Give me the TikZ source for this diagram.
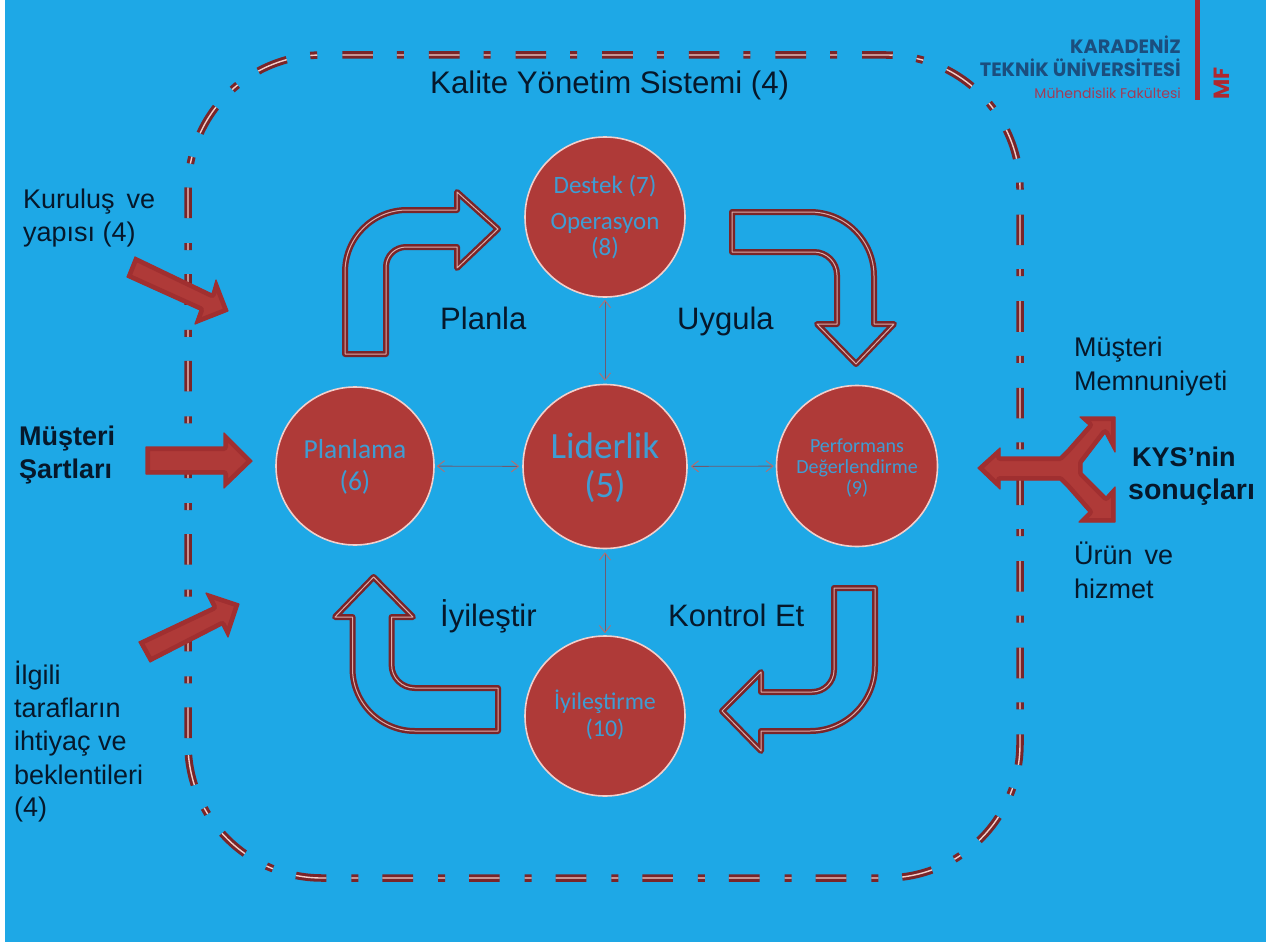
\documentclass[tikz,border=0pt]{standalone}
\usepackage{fontspec}
\setmainfont{Liberation Sans}
\newfontfamily\carl{Carlito}
\newfontfamily\logof{Poppins}
\usetikzlibrary{arrows.meta}
\definecolor{bgblue}{HTML}{1EA8E6}
\definecolor{redfill}{HTML}{AF3A38}
\definecolor{redbevel}{HTML}{A02F30}
\definecolor{redline}{HTML}{8E2C30}
\definecolor{outl}{HTML}{7A2529}
\definecolor{pinkl}{HTML}{F3CFCB}
\definecolor{circtxt}{HTML}{3F9CD2}
\definecolor{ink}{HTML}{06182B}
\definecolor{navy}{HTML}{1B4E7E}
\definecolor{logored}{HTML}{B0282F}
\definecolor{logopink}{HTML}{A33B55}
\definecolor{thinl}{HTML}{6E5A70}
\tikzset{
  circ/.style={circle,draw=pinkl,line width=1.6pt,fill=redfill,minimum size=#1,inner sep=0pt},
  ctext/.style={text=circtxt,inner sep=0pt,anchor=base,font=\carl},
  ltext/.style={text=ink,inner sep=0pt,anchor=base west},
  link/.style={draw=thinl,line width=.9pt,{Straight Barb[length=7pt,width=11pt,color=redline!60!pinkl]}-{Straight Barb[length=7pt,width=11pt,color=redline!60!pinkl]},shorten <=3pt,shorten >=2pt},
  hollowa/.style={draw=outl,line width=6pt,line join=round,fill=none},
  hollowb/.style={draw=pinkl!80!outl,line width=1pt,line join=round,fill=none},
  frameA/.style={draw=outl,line width=7.5pt,dash pattern=on 30.64pt off 25pt on 7pt off 24pt,dash phase=74.64pt},
  frameB/.style={draw=pinkl,line width=1.4pt,dash pattern=on 30.64pt off 25pt on 7pt off 24pt,dash phase=74.64pt},
}
\newcommand{\hollowarrow}[1]{\draw[hollowa] #1; \draw[hollowb] #1;}
\newcommand{\solidarrow}[1]{%
  \begin{scope}\clip #1; \fill[redfill] #1; \draw[redbevel,line width=8pt,line join=round] #1;\end{scope}
  \draw[redbevel,line width=1.2pt,line join=round] #1;}
\begin{document}
\begin{tikzpicture}[x=1pt,y=-1pt]
\useasboundingbox (0,0) rectangle (1266,942);
\fill[white] (0,0) rectangle (1266,942);
\fill[bgblue] (5,0) rectangle (1266,942);
% frame
\def\framepath{[rounded corners=134pt] (188,743) -- (188,878) -- (1020,878) -- (1020,55) -- (188,55) -- (188,743)}
\draw[frameA] \framepath;
\draw[frameB] \framepath;
% hollow arrows
\def\arrowA{(345,354) -- (345,272) arc[start angle=180,end angle=270,radius=62] -- (457,210) -- (457,192) -- (498,229) -- (457,268) -- (457,247) -- (406,247) arc[start angle=270,end angle=180,radius=20] -- (386,354) -- cycle}
\hollowarrow{\arrowA}
\def\arrowB{(732,212) -- (810,212) arc[start angle=270,end angle=360,radius=64] -- (874,324) -- (894,324) -- (856,364) -- (817,324) -- (837,324) -- (837,275) arc[start angle=0,end angle=-90,radius=23] -- (732,252) -- cycle}
\hollowarrow{\arrowB}
\def\arrowC{(834,588) -- (875,588) -- (875,666) arc[start angle=0,end angle=90,radius=65] -- (761,731) -- (761,751) -- (722,711) -- (761,672) -- (761,692) -- (812,692) arc[start angle=90,end angle=0,radius=22] -- cycle}
\hollowarrow{\arrowC}
\def\arrowD{(498,688) -- (498,731) -- (415,731) arc[start angle=90,end angle=180,radius=62.5] -- (352.5,617) -- (335,617) -- (373.6,577) -- (413,617) -- (391.6,617) -- (391.6,665) arc[start angle=180,end angle=90,radius=23] -- cycle}
\hollowarrow{\arrowD}
% solid arrows
\solidarrow{(135,257) -- (212,294) -- (216,280) -- (228,311) -- (195,324) -- (200,310) -- (127,277) -- cycle}
\solidarrow{(146,447) -- (224,447) -- (224,433) -- (252,461) -- (224,488) -- (224,474) -- (146,474) -- cycle}
\solidarrow{(139,642) -- (213,607) -- (206,593) -- (239,604) -- (228,637) -- (222,625) -- (150,662) -- cycle}
\solidarrow{(978,468) -- (1000,448) -- (1000,457) -- (1060,457) -- (1067,450) -- (1089,425) -- (1080,417) -- (1115,417) -- (1115,452) -- (1105,433) -- (1082,463) -- (1082,473) -- (1106,497) -- (1115,487) -- (1115,522) -- (1079,522) -- (1089,512) -- (1067,487) -- (1060,480) -- (1000,480) -- (1000,489) -- cycle}
% circles
\node[circ=160pt] (destek) at (605,217) {};
\node[circ=158pt] (planlama) at (355,466) {};
\node[circ=164pt] (liderlik) at (605,466.5) {};
\node[circ=161pt] (perf) at (857,466) {};
\node[circ=160pt] (iyi) at (605,716) {};
\draw[link] (liderlik) -- (destek);
\draw[link] (liderlik) -- (planlama);
\draw[link] (liderlik) -- (perf);
\draw[link] (liderlik) -- (iyi);
% circle text
\node[ctext,font=\carl\fontsize{25}{26}\selectfont] (t1) at (605,193) {Destek (7)};
\node[ctext,font=\carl\fontsize{25}{26}\selectfont] (t2) at (605,229) {Operasyon};
\node[ctext,font=\carl\fontsize{25}{26}\selectfont] (t3) at (605,255) {(8)};
\node[ctext,font=\carl\fontsize{27.5}{28}\selectfont] (t4) at (355,458) {Planlama};
\node[ctext,font=\carl\fontsize{27.5}{28}\selectfont] (t5) at (355,490) {(6)};
\node[ctext,font=\carl\fontsize{37}{38}\selectfont] (t6) at (605,458) {Liderlik};
\node[ctext,font=\carl\fontsize{37}{38}\selectfont] (t7) at (605,497) {(5)};
\node[ctext,font=\carl\fontsize{20}{22}\selectfont] (t8) at (857,452) {Performans};
\node[ctext,font=\carl\fontsize{20}{22}\selectfont] (t9) at (857,473) {Değerlendirme};
\node[ctext,font=\carl\fontsize{20}{22}\selectfont] (t10) at (857,494) {(9)};
\node[ctext,font=\carl\fontsize{24}{26}\selectfont] (t11) at (605,709) {İyileştirme};
\node[ctext,font=\carl\fontsize{24}{26}\selectfont] (t12) at (605,736) {(10)};
% black labels
\node[ltext,font=\fontsize{31.2}{33}\selectfont] (k) at (430,93.5) {Kalite Yönetim Sistemi (4)};
\node[ltext,font=\fontsize{27}{29}\selectfont] (a1) at (23,208) {Kuruluş\, ve};
\node[ltext,font=\fontsize{27}{29}\selectfont] (a2) at (23,241) {yapısı (4)};
\node[ltext,font=\fontsize{27}{29}\selectfont\bfseries] (b1) at (19,445) {Müşteri};
\node[ltext,font=\fontsize{27}{29}\selectfont\bfseries] (b2) at (19,478) {Şartları};
\node[ltext,font=\fontsize{27}{29}\selectfont] (c1) at (14,684) {İlgili};
\node[ltext,font=\fontsize{27}{29}\selectfont] (c2) at (14,717) {tarafların};
\node[ltext,font=\fontsize{27}{29}\selectfont] (c3) at (14,750) {ihtiyaç ve};
\node[ltext,font=\fontsize{27}{29}\selectfont] (c4) at (14,784) {beklentileri};
\node[ltext,font=\fontsize{27}{29}\selectfont] (c5) at (14,816) {(4)};
\node[ltext,font=\fontsize{31}{33}\selectfont] (p1) at (440,329) {Planla};
\node[ltext,font=\fontsize{31}{33}\selectfont] (p2) at (677,329) {Uygula};
\node[ltext,font=\fontsize{31}{33}\selectfont] (p3) at (440,626) {İyileştir};
\node[ltext,font=\fontsize{31}{33}\selectfont] (p4) at (668,626) {Kontrol Et};
\node[ltext,font=\fontsize{27}{29}\selectfont] (d1) at (1074,356) {Müşteri};
\node[ltext,font=\fontsize{27}{29}\selectfont] (d2) at (1074,390) {Memnuniyeti};
\node[ltext,font=\fontsize{27}{29}\selectfont\bfseries] (e1) at (1132,466) {KYS’nin};
\node[ltext,font=\fontsize{28.5}{30}\selectfont\bfseries] (e2) at (1128,499) {sonuçları};
\node[ltext,font=\fontsize{27}{29}\selectfont] (f1) at (1074,564) {Ürün\, ve};
\node[ltext,font=\fontsize{27}{29}\selectfont] (f2) at (1074,598) {hizmet};
% logo
\fill[logored] (1195,0) rectangle (1200,100);
\node[inner sep=0pt,anchor=base east,text=navy,font=\logof\fontsize{19.3}{21}\selectfont\bfseries] (l1) at (1181,54) {KARADENİZ};
\node[inner sep=0pt,anchor=base east,text=navy,font=\logof\fontsize{19.3}{21}\selectfont\bfseries] (l2) at (1181,77) {TEKNİK ÜNİVERSİTESİ};
\node[inner sep=0pt,anchor=base east,text=logopink,font=\logof\fontsize{14}{16}\selectfont] (l3) at (1181,99) {Mühendislik Fakültesi};
\node[inner sep=0pt,anchor=base west,rotate=90,text=logored,font=\logof\fontsize{22}{24}\selectfont\bfseries] (l4) at (1229,100) {MF};
\end{tikzpicture}
\end{document}
